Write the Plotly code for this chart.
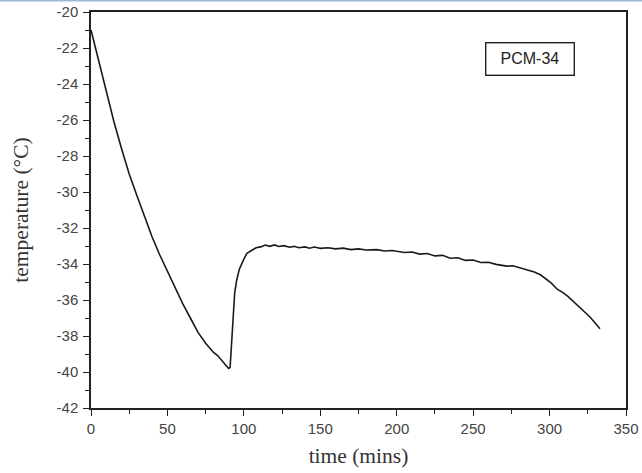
import plotly.graph_objects as go

time_min = [0, 5, 10, 15, 20, 25, 30, 35, 40, 45, 50, 55, 60, 65, 70, 75, 80, 83, 85, 88, 90, 91,
            92, 93, 94, 95.3, 97, 99.6, 102, 105, 108, 111, 114, 117, 120, 123, 126, 130, 133, 136,
            140, 143, 146, 150, 155, 160, 165, 170, 175, 180, 187, 192, 197, 205, 210, 215, 220,
            225, 230, 235, 240, 245, 250, 255, 260, 265, 272, 276, 280, 285, 290, 294, 297, 301,
            305, 309, 312, 316, 320, 324, 327, 330, 333]
temperature = [-21.0, -22.7, -24.4, -26.1, -27.6, -29.0, -30.2, -31.4, -32.5, -33.5, -34.4, -35.3,
               -36.2, -37.0, -37.8, -38.4, -38.9, -39.1, -39.3, -39.55, -39.8, -39.75,
               -38.4, -36.6, -35.6, -34.9, -34.3, -33.8, -33.4, -33.25, -33.1, -33.05, -32.95,
               -33.02, -32.94, -33.03, -32.98, -33.07, -33.02, -33.1, -33.05, -33.12, -33.06,
               -33.13, -33.1, -33.16, -33.12, -33.2, -33.16, -33.22, -33.2, -33.28, -33.25,
               -33.36, -33.33, -33.45, -33.42, -33.55, -33.52, -33.68, -33.65, -33.8, -33.78,
               -33.92, -33.9, -34.02, -34.12, -34.1, -34.2, -34.3, -34.45, -34.6, -34.8, -35.05,
               -35.4, -35.6, -35.8, -36.1, -36.4, -36.75, -37.0, -37.3, -37.6]

x_ticks = [0, 50, 100, 150, 200, 250, 300, 350]
y_ticks = list(range(-42, -19, 2))
y_tick_labels = ["-%d" % abs(v) for v in y_ticks]

fig = go.Figure()
fig.add_trace(go.Scatter(x=time_min, y=temperature, mode="lines",
                         line=dict(color="#1a1a1a", width=1.6), showlegend=False))

tickfont = dict(family="Liberation Sans, Arial, sans-serif", size=15, color="#444444")
titlefont = dict(family="Liberation Serif, Times New Roman, serif", size=21.5, color="#333333")

fig.update_xaxes(range=[0, 350], tickvals=x_ticks, ticks="outside", ticklen=6, tickwidth=1.2,
                 tickcolor="#222", showline=True, linecolor="#222", linewidth=1.5, mirror=True,
                 showgrid=False, zeroline=False, tickfont=tickfont, automargin=False,
                 minor=dict(ticks="outside", dtick=25, ticklen=4, tickcolor="#222", tickwidth=1.2,
                            showgrid=False),
                 title=dict(text="time (mins)", font=titlefont, standoff=12))
fig.update_yaxes(range=[-42, -20], tickvals=y_ticks, ticktext=y_tick_labels, ticks="outside",
                 ticklen=6, tickwidth=1.2, ticklabelstandoff=2,
                 tickcolor="#222", showline=True, linecolor="#222", linewidth=1.5, mirror=True,
                 showgrid=False, zeroline=False, tickfont=tickfont, automargin=False,
                 minor=dict(ticks="outside", dtick=1, ticklen=4, tickcolor="#222", tickwidth=1.2,
                            showgrid=False),
                 title=dict(text="temperature (°C)", font=titlefont, standoff=22))

fig.add_annotation(x=0.82, y=0.881, xref="paper", yref="paper", text="PCM-34", showarrow=False,
                   xanchor="center", yanchor="middle", width=83, height=27,
                   font=dict(family="Liberation Sans, Arial, sans-serif", size=16, color="#222"),
                   bordercolor="#222", borderwidth=1.4, borderpad=2, bgcolor="white")

fig.add_shape(type="line", xref="paper", yref="paper", x0=-0.2, x1=1.1, y0=1.029, y1=1.029,
              line=dict(color="#9db9d9", width=2))

fig.update_layout(width=642, height=473, margin=dict(l=91, r=16, t=12, b=65),
                  plot_bgcolor="white", paper_bgcolor="white")

fig.write_html("out.html")
